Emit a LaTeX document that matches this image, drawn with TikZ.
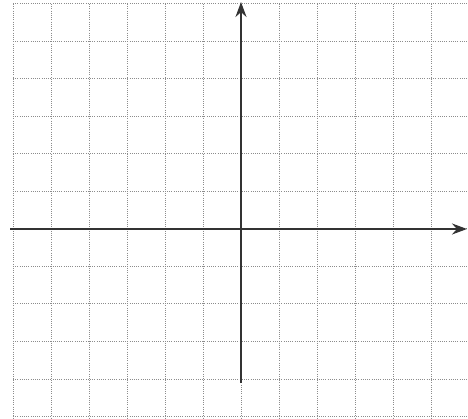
\documentclass[tikz,border=0pt]{standalone}
\usetikzlibrary{arrows.meta}
\begin{document}
\begin{tikzpicture}[x=1pt,y=-1pt,
  gridline/.style={gray!90,line width=1pt,dash pattern=on 1pt off 1.2pt},
  axisline/.style={black!80,line width=1.8pt,-{Stealth[length=15pt,width=11pt]}}]
\useasboundingbox (0,0) rectangle (468,419);
\fill[white] (0,0) rectangle (468,419);
\foreach \i in {0,...,11} {
  \draw[gridline] ({13+38*\i},4) -- ({13+38*\i},419);
  \draw[gridline] (13,{4+37.5*\i}) -- (468,{4+37.5*\i});
}
\coordinate (xl) at (10,229);
\coordinate (xr) at (467,229);
\coordinate (yb) at (241,383);
\coordinate (yt) at (241,2);
\draw[axisline] (xl) -- (xr);
\draw[axisline] (yb) -- (yt);
\end{tikzpicture}
\end{document}
